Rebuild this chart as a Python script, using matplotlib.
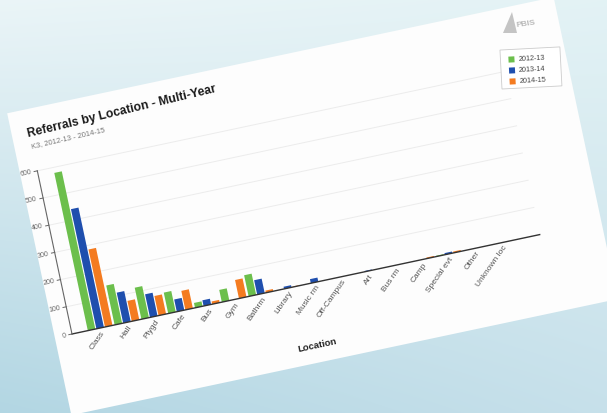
import matplotlib.pyplot as plt
import numpy as np
from matplotlib.transforms import Affine2D
from matplotlib.patches import Polygon

plt.rcParams['font.family'] = ['Liberation Sans', 'DejaVu Sans']

# referrals per location, one list per school year
locations = ['Class', 'Hall', 'Plygd', 'Cafe', 'Bus', 'Gym', 'Bathrm', 'Library',
             'Music rm', 'Off-Campus', 'Art', 'Bus rm', 'Camp', 'Special evt',
             'Other', 'Unknown loc']
y2012_13 = [580, 145, 116, 77, 18, 45, 78, 0, 0, 0, 0, 0, 0, 3, 0, 0]
y2013_14 = [440, 112, 85, 45, 21, 0, 53, 8, 15, 0, 3, 0, 0, 6, 0, 0]
y2014_15 = [285, 75, 72, 70, 10, 68, 8, 2, 0, 0, 0, 0, 4, 5, 0, 0]
years = ['2012-13', '2013-14', '2014-15']
colors = ['#6cbf4c', '#1f4fae', '#f47b20']
yticks = [0, 100, 200, 300, 400, 500, 600]

W, H = 607, 413
fig = plt.figure(figsize=(W / 100, H / 100), dpi=100)
ax = fig.add_axes([0, 0, 1, 1])
ax.set_xlim(0, W)
ax.set_ylim(0, H)
ax.axis('off')

# pale blue backdrop, darker toward the bottom left
tl, tr_, bl, br = [np.array(c) for c in
                   ([0.92, 0.96, 0.97], [0.89, 0.95, 0.96],
                    [0.70, 0.84, 0.89], [0.78, 0.88, 0.92])]
u = np.linspace(0, 1, W)[None, :, None]
v = np.linspace(0, 1, H)[:, None, None]
bg = (1 - v) * ((1 - u) * tl + u * tr_) + v * ((1 - u) * bl + u * br)
ax.imshow(bg, extent=(0, W, 0, H), origin='upper', aspect='auto', zorder=0)

# chart frame: x in categories, y in referrals, tilted 12 degrees
x_axis, x_end = -1.05, 16.4
frame = (Affine2D().translate(-x_axis, 0).scale(27.4, 0.278)
         .rotate_deg(12).translate(72, H - 334))
T = frame + ax.transData
ang = 12

# the white sheet the chart sits on
ax.add_patch(Polygon([(-1.69, -285), (18.7, -285), (18.7, 825), (-1.69, 825)],
                     closed=True, facecolor='#fdfdfd', edgecolor='none',
                     transform=T, zorder=1))

x = np.arange(len(locations))
for v_ in yticks[1:]:
    ax.plot([x_axis, x_end], [v_, v_], color='#ececec', lw=0.7, transform=T, zorder=2)

for k, (vals, c) in enumerate(zip([y2012_13, y2013_14, y2014_15], colors)):
    ax.bar(x + (k - 1) * 0.32, vals, width=0.28, color=c, transform=T, zorder=3)

# axes lines and ticks
ax.plot([x_axis, x_end], [0, 0], color='#333333', lw=1.0, transform=T, zorder=4)
ax.plot([x_axis, x_axis], [0, 600], color='#666666', lw=0.8, transform=T, zorder=4)
for v_ in yticks:
    ax.plot([x_axis - 0.12, x_axis], [v_, v_], color='#666666', lw=0.7,
            transform=T, zorder=4)
    ax.text(x_axis - 0.22, v_, str(v_), transform=T, rotation=ang,
            rotation_mode='anchor', ha='right', va='center', fontsize=5,
            color='#666666', zorder=5)

for i, name in enumerate(locations):
    ax.text(i + 0.1, -16, name, transform=T, rotation=ang + 43,
            rotation_mode='anchor', ha='right', va='center', fontsize=6,
            color='#555555', zorder=5)

ax.text(7.6, -225, 'Location', transform=T, rotation=ang, rotation_mode='anchor',
        ha='center', va='center', fontsize=6.8, fontweight='bold', color='#222222')
ax.text(-1.1, 727, 'Referrals by Location - Multi-Year', transform=T,
        rotation=ang + 1.5, rotation_mode='anchor', ha='left', va='baseline',
        fontsize=8.7, fontweight='bold', color='#1a1a1a')
ax.text(-1.08, 684, 'K3, 2012-13 - 2014-15', transform=T, rotation=ang + 1,
        rotation_mode='anchor', ha='left', va='baseline', fontsize=5.4,
        color='#777777')

# legend box in the upper right corner
leg = Affine2D().rotate_deg(3).translate(502, H - 89) + ax.transData
ax.add_patch(Polygon([(0, 0), (60, 0), (60, 39), (0, 39)], closed=True,
                     facecolor='white', edgecolor='#cccccc', lw=0.6,
                     transform=leg, zorder=5))
for k, (lab, c) in enumerate(zip(years, colors)):
    yy = 29 - k * 11
    ax.add_patch(Polygon([(8, yy - 3), (14, yy - 3), (14, yy + 3), (8, yy + 3)],
                         closed=True, facecolor=c, edgecolor='none',
                         transform=leg, zorder=6))
    ax.text(18, yy, lab, transform=leg, rotation=3, rotation_mode='anchor',
            ha='left', va='center', fontsize=5.2, color='#444444', zorder=6)

# small grey logo above the legend
ax.add_patch(Polygon([(503, H - 33), (512, H - 12), (517, H - 33)], closed=True,
                     facecolor='#c4c4c4', edgecolor='none', zorder=5))
ax.text(516, H - 24, 'PBIS', rotation=8, ha='left', va='center', fontsize=6,
        color='#b8b8b8', fontweight='bold', zorder=5)

fig.savefig('out.png', dpi=100)
